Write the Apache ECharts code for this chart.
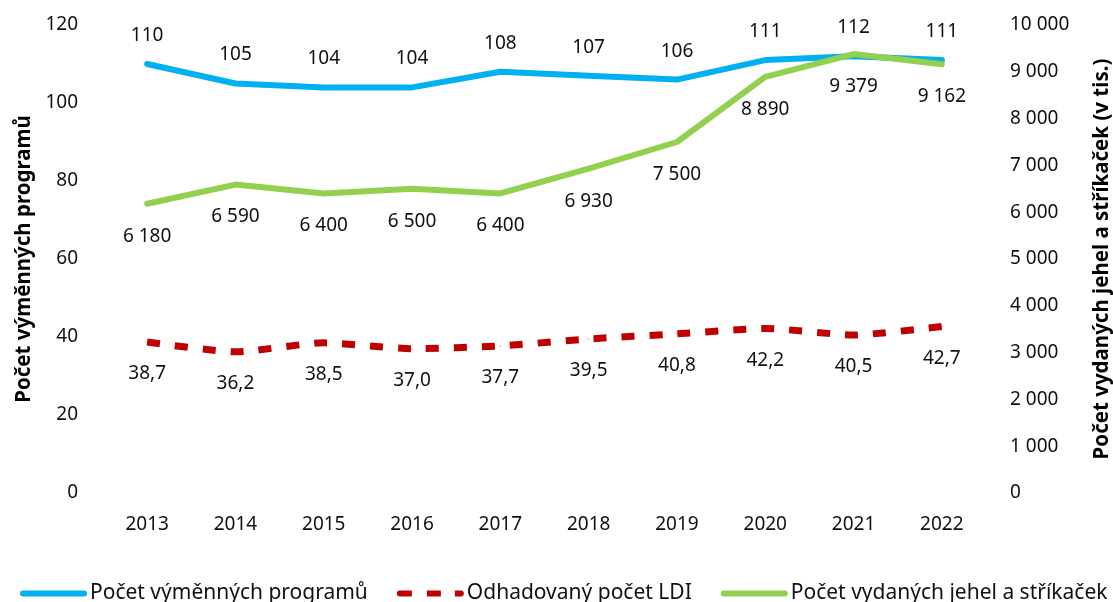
<!DOCTYPE html>
<html>
<head>
<meta charset="utf-8">
<script src="https://cdn.jsdelivr.net/npm/echarts@6/dist/echarts.min.js"></script>
<style>
  html, body { margin: 0; padding: 0; background: #fff; }
  #chart { width: 1113px; height: 602px; }
</style>
</head>
<body>
<div id="chart"></div>
<script>
// roky
var years = ['2013', '2014', '2015', '2016', '2017', '2018', '2019', '2020', '2021', '2022']
// pocet vymennych programu (leva osa)
var programy = [110, 105, 104, 104, 108, 107, 106, 111, 112, 111]
// odhadovany pocet LDI (leva osa)
var ldi = [38.7, 36.2, 38.5, 37.0, 37.7, 39.5, 40.8, 42.2, 40.5, 42.7]
// pocet vydanych jehel a strikacek v tis. (prava osa)
var jehly = [6180, 6590, 6400, 6500, 6400, 6930, 7500, 8890, 9379, 9162]

var FONT = '"Noto Sans", "Open Sans", sans-serif'
var TXT = '#111'

// ikony legendy
var ICON_LINE = 'path://M3,0 H64 A3,3 0 0 1 64,6 H3 A3,3 0 0 1 3,0 Z'
var ICON_DASH = 'path://M3,0 H15 V6 H3 A3,3 0 0 1 3,0 Z M30,0 H44 V6 H30 Z M58,0 H64 A3,3 0 0 1 64,6 H58 Z'

function tis (v) {
  // 6180 -> "6 180"
  return String(v).replace(/\B(?=(\d{3})+(?!\d))/g, ' ')
}

var chart = echarts.init(document.getElementById('chart'))

var labelBase = {
  show: true,
  fontSize: 19,
  color: TXT,
  fontFamily: FONT,
}

var option = {
  animation: false,
  textStyle: { fontFamily: FONT },
  grid: {
    left: 103,
    right: 127,
    top: 25,
    bottom: 109,
    outerBoundsMode: 'none',
    containLabel: false,
  },
  legend: {
    left: 15,
    top: 578,
    width: 1200,
    itemWidth: 67,
    itemHeight: 6,
    itemGap: 29,
    textStyle: { fontFamily: FONT, fontSize: 21, color: TXT, padding: [0, 0, 0, -2] },
    data: [
      { name: 'Počet výměnných programů', icon: ICON_LINE },
      { name: 'Odhadovaný počet LDI', icon: ICON_DASH },
      { name: 'Počet vydaných jehel a stříkaček', icon: ICON_LINE },
    ],
  },
  xAxis: {
    type: 'category',
    data: years,
    axisLine: { show: false },
    axisTick: { show: false },
    splitLine: { show: false },
    axisLabel: { fontSize: 19, color: TXT, margin: 22, fontFamily: FONT },
  },
  yAxis: [
    {
      type: 'value',
      min: 0,
      max: 120,
      interval: 20,
      name: 'Počet výměnných programů',
      nameLocation: 'middle',
      nameRotate: 90,
      nameGap: 66,
      nameTextStyle: { fontSize: 20.5, fontWeight: 'bold', color: '#000', fontFamily: FONT },
      axisLine: { show: false },
      axisTick: { show: false },
      splitLine: { show: false },
      axisLabel: { fontSize: 19, color: TXT, margin: 25, fontFamily: FONT },
    },
    {
      type: 'value',
      min: 0,
      max: 10000,
      interval: 1000,
      name: 'Počet vydaných jehel a stříkaček (v tis.)',
      nameLocation: 'middle',
      nameRotate: 90,
      nameGap: 106,
      nameTextStyle: { fontSize: 20.5, fontWeight: 'bold', color: '#000', fontFamily: FONT },
      axisLine: { show: false },
      axisTick: { show: false },
      splitLine: { show: false },
      axisLabel: {
        fontSize: 19,
        color: TXT,
        margin: 24,
        fontFamily: FONT,
        formatter: function (v) { return tis(v) },
      },
    },
  ],
  series: [
    {
      name: 'Počet výměnných programů',
      type: 'line',
      yAxisIndex: 0,
      data: programy,
      symbol: 'circle',
      symbolSize: 2,
      showSymbol: true,
      lineStyle: { color: '#00B0F0', width: 6, cap: 'round', join: 'round' },
      itemStyle: { color: '#00B0F0' },
      label: Object.assign({}, labelBase, { position: 'top', distance: 18 }),
      z: 2,
    },
    {
      name: 'Odhadovaný počet LDI',
      type: 'line',
      yAxisIndex: 0,
      data: ldi,
      symbol: 'circle',
      symbolSize: 1,
      showSymbol: true,
      smooth: 0.2,
      lineStyle: { color: '#C00000', width: 7, type: [13, 15], cap: 'butt' },
      itemStyle: { color: '#C00000' },
      label: Object.assign({}, labelBase, {
        position: 'bottom',
        distance: 22,
        formatter: function (p) { return p.value.toFixed(1).replace('.', ',') },
      }),
      z: 3,
    },
    {
      name: 'Počet vydaných jehel a stříkaček',
      type: 'line',
      yAxisIndex: 1,
      data: jehly,
      symbol: 'circle',
      symbolSize: 2,
      showSymbol: true,
      lineStyle: { color: '#92D050', width: 6, cap: 'round', join: 'round' },
      itemStyle: { color: '#92D050' },
      label: Object.assign({}, labelBase, {
        position: 'bottom',
        distance: 22,
        formatter: function (p) { return tis(p.value) },
      }),
      z: 4,
    },
  ],
}

chart.setOption(option)
window.addEventListener('resize', function () {
  chart.resize()
})
</script>
</body>
</html>
